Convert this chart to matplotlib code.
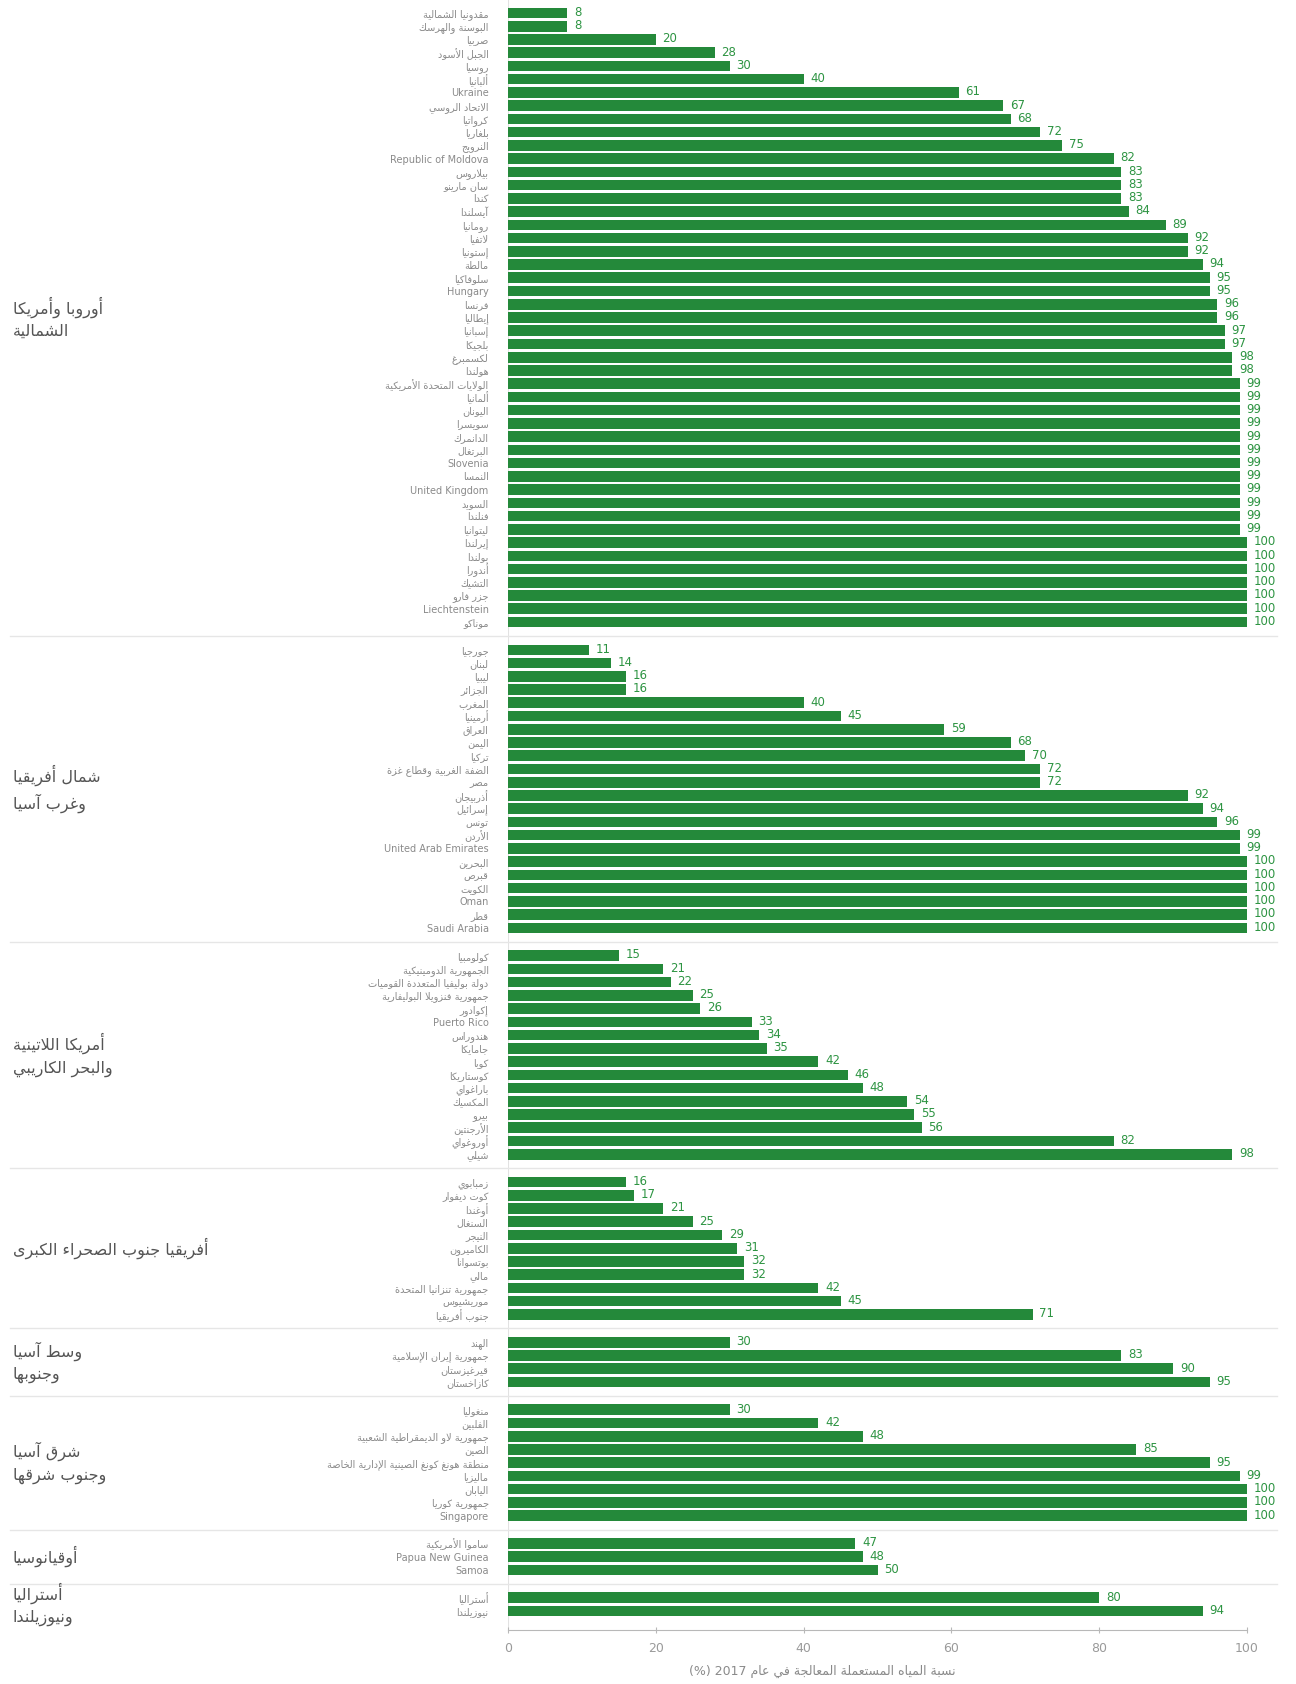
import matplotlib
matplotlib.use("Agg")
import matplotlib.pyplot as plt
from matplotlib.transforms import blended_transform_factory

# ---- data ----
g1_label = "أوروبا وأمريكا\nالشمالية"
g1_names = ["مقدونيا الشمالية", "البوسنة والهرسك", "صربيا", "الجبل الأسود", "روسيا", "ألبانيا",
            "Ukraine", "الاتحاد الروسي", "كرواتيا", "بلغاريا", "النرويج", "Republic of Moldova",
            "بيلاروس", "سان مارينو", "كندا", "آيسلندا", "رومانيا", "لاتفيا", "إستونيا", "مالطة",
            "سلوفاكيا", "Hungary", "فرنسا", "إيطاليا", "إسبانيا", "بلجيكا", "لكسمبرغ", "هولندا",
            "الولايات المتحدة الأمريكية", "ألمانيا", "اليونان", "سويسرا", "الدانمرك", "البرتغال",
            "Slovenia", "النمسا", "United Kingdom", "السويد", "فنلندا", "ليتوانيا", "إيرلندا",
            "بولندا", "أندورا", "التشيك", "جزر فارو", "Liechtenstein", "موناكو"]
g1_vals = [8, 8, 20, 28, 30, 40, 61, 67, 68, 72, 75, 82, 83, 83, 83, 84, 89, 92, 92, 94, 95, 95,
           96, 96, 97, 97, 98, 98, 99, 99, 99, 99, 99, 99, 99, 99, 99, 99, 99, 99,
           100, 100, 100, 100, 100, 100, 100]

g2_label = "شمال أفريقيا\nوغرب آسيا"
g2_names = ["جورجيا", "لبنان", "ليبيا", "الجزائر", "المغرب", "أرمينيا", "العراق", "اليمن", "تركيا",
            "الضفة الغربية وقطاع غزة", "مصر", "أذربيجان", "إسرائيل", "تونس", "الأردن",
            "United Arab Emirates", "البحرين", "قبرص", "الكويت", "Oman", "قطر", "Saudi Arabia"]
g2_vals = [11, 14, 16, 16, 40, 45, 59, 68, 70, 72, 72, 92, 94, 96, 99, 99, 100, 100, 100, 100, 100, 100]

g3_label = "أمريكا اللاتينية\nوالبحر الكاريبي"
g3_names = ["كولومبيا", "الجمهورية الدومينيكية", "دولة بوليفيا المتعددة القوميات",
            "جمهورية فنزويلا البوليفارية", "إكوادور", "Puerto Rico", "هندوراس", "جامايكا", "كوبا",
            "كوستاريكا", "باراغواي", "المكسيك", "بيرو", "الأرجنتين", "أوروغواي", "شيلي"]
g3_vals = [15, 21, 22, 25, 26, 33, 34, 35, 42, 46, 48, 54, 55, 56, 82, 98]

g4_label = "أفريقيا جنوب الصحراء الكبرى"
g4_names = ["زمبابوي", "كوت ديفوار", "أوغندا", "السنغال", "النيجر", "الكاميرون", "بوتسوانا", "مالي",
            "جمهورية تنزانيا المتحدة", "موريشيوس", "جنوب أفريقيا"]
g4_vals = [16, 17, 21, 25, 29, 31, 32, 32, 42, 45, 71]

g5_label = "وسط آسيا\nوجنوبها"
g5_names = ["الهند", "جمهورية إيران الإسلامية", "قيرغيزستان", "كازاخستان"]
g5_vals = [30, 83, 90, 95]

g6_label = "شرق آسيا\nوجنوب شرقها"
g6_names = ["منغوليا", "الفلبين", "جمهورية لاو الديمقراطية الشعبية", "الصين",
            "منطقة هونغ كونغ الصينية الإدارية الخاصة", "ماليزيا", "اليابان", "جمهورية كوريا", "Singapore"]
g6_vals = [30, 42, 48, 85, 95, 99, 100, 100, 100]

g7_label = "أوقيانوسيا"
g7_names = ["ساموا الأمريكية", "Papua New Guinea", "Samoa"]
g7_vals = [47, 48, 50]

g8_label = "أستراليا\nونيوزيلندا"
g8_names = ["أستراليا", "نيوزيلندا"]
g8_vals = [80, 94]

xticks = [0, 20, 40, 60, 80, 100]
xlabel = "نسبة المياه المستعملة المعالجة في عام 2017 (%)"

# ---- tiny arabic shaper (matplotlib has no shaping/bidi) ----
AR = {
    'ء': (0xFE80, 1), 'آ': (0xFE81, 2), 'أ': (0xFE83, 2), 'ؤ': (0xFE85, 2), 'إ': (0xFE87, 2),
    'ئ': (0xFE89, 4), 'ا': (0xFE8D, 2), 'ب': (0xFE8F, 4), 'ة': (0xFE93, 2), 'ت': (0xFE95, 4),
    'ث': (0xFE99, 4), 'ج': (0xFE9D, 4), 'ح': (0xFEA1, 4), 'خ': (0xFEA5, 4), 'د': (0xFEA9, 2),
    'ذ': (0xFEAB, 2), 'ر': (0xFEAD, 2), 'ز': (0xFEAF, 2), 'س': (0xFEB1, 4), 'ش': (0xFEB5, 4),
    'ص': (0xFEB9, 4), 'ض': (0xFEBD, 4), 'ط': (0xFEC1, 4), 'ظ': (0xFEC5, 4), 'ع': (0xFEC9, 4),
    'غ': (0xFECD, 4), 'ف': (0xFED1, 4), 'ق': (0xFED5, 4), 'ك': (0xFED9, 4), 'ل': (0xFEDD, 4),
    'م': (0xFEE1, 4), 'ن': (0xFEE5, 4), 'ه': (0xFEE9, 4), 'و': (0xFEED, 2), 'ى': (0xFEEF, 2),
    'ي': (0xFEF1, 4),
}
LAM_ALEF = {'ا': 0xFEFB, 'آ': 0xFEF5, 'أ': 0xFEF7, 'إ': 0xFEF9}


def shape(word):
    out = []
    i = 0
    prev = False
    while i < len(word):
        c = word[i]
        if c not in AR:
            out.append(c)
            prev = False
            i += 1
            continue
        if c == 'ل' and i + 1 < len(word) and word[i + 1] in LAM_ALEF:
            out.append(chr(LAM_ALEF[word[i + 1]] + (1 if prev else 0)))
            prev = False
            i += 2
            continue
        base, k = AR[c]
        nxt = word[i + 1] if i + 1 < len(word) else ''
        nxt_ok = nxt in AR and AR[nxt][1] > 1
        if k == 1:
            f, joins = 0, False
        elif k == 2:
            f, joins = (1 if prev else 0), False
        else:
            joins = nxt_ok
            f = 3 if (prev and joins) else 1 if prev else 2 if joins else 0
        out.append(chr(base + f))
        prev = joins
        i += 1
    return ''.join(out)


def ar(s):
    if not any(ch in AR for ch in s):
        return s
    lines = []
    for line in s.split('\n'):
        toks = [shape(t) for t in line.split(' ')]
        toks = [t[::-1] if any('\ufe70' <= ch <= '\ufeff' for ch in t) else t for t in toks]
        lines.append(' '.join(toks[::-1]))
    return '\n'.join(lines)


# ---- layout ----
groups = [(g1_label, g1_names, g1_vals), (g2_label, g2_names, g2_vals),
          (g3_label, g3_names, g3_vals), (g4_label, g4_names, g4_vals),
          (g5_label, g5_names, g5_vals), (g6_label, g6_names, g6_vals),
          (g7_label, g7_names, g7_vals), (g8_label, g8_names, g8_vals)]

GAP = 2.1
pos, names, vals, centers, seps = [], [], [], [], []
y = 0.0
for gi, (lab, nm, vl) in enumerate(groups):
    if gi > 0:
        seps.append(y - 1 + GAP / 2)
        y += GAP - 1
    start = y
    for n, v in zip(nm, vl):
        pos.append(y)
        names.append(n)
        vals.append(v)
        y += 1
    centers.append((lab, (start + y - 1) / 2))

plt.rcParams['font.family'] = ['DejaVu Sans']
W, H = 1296, 1684
fig = plt.figure(figsize=(W / 100, H / 100), dpi=100)
ax = fig.add_axes([508 / W, 1 - 1630 / H, (1247 - 508) / W, 1630 / H])

green = '#24893a'
ax.barh(pos, vals, height=0.8, color=green)
for p, v in zip(pos, vals):
    ax.text(v + 0.9, p - 0.05, str(v), va='center', ha='left', fontsize=8.5, color='#2d9442')

pitch = (1611 - 13) / pos[-1]
ax.set_ylim(pos[-1] + 19 / pitch, -13 / pitch)
ax.set_xlim(0, 100)

ax.set_yticks(pos)
ax.set_yticklabels([ar(n) for n in names], fontsize=7, color='#8a8a8a')
ax.tick_params(axis='y', length=0, pad=14)

ax.set_xticks(xticks)
ax.set_xticklabels([str(t) for t in xticks], fontsize=9, color='#9a9a9a')
ax.tick_params(axis='x', length=5, direction='inout', color='#b8b8b8', pad=6)

for s in ['top', 'right', 'left']:
    ax.spines[s].set_visible(False)
ax.spines['bottom'].set_color('#b8b8b8')
ax.axvline(0, color='#e2e2e2', lw=0.8, zorder=0)

tr = blended_transform_factory(fig.transFigure, ax.transData)
for s in seps:
    ax.plot([0.008, 0.985], [s, s], color='#e6e6e6', lw=1, transform=tr, clip_on=False)

for lab, c in centers:
    fig.text(0.01, c, ar(lab), transform=tr, ha='left', va='center', fontsize=11.5,
             color='#555555', multialignment='left', linespacing=1.5)

fig.text(822 / W, 1 - 1671 / H, ar(xlabel), ha='center', va='center', fontsize=9, color='#8a8a8a')

fig.savefig('out.png', dpi=100, facecolor='white')
